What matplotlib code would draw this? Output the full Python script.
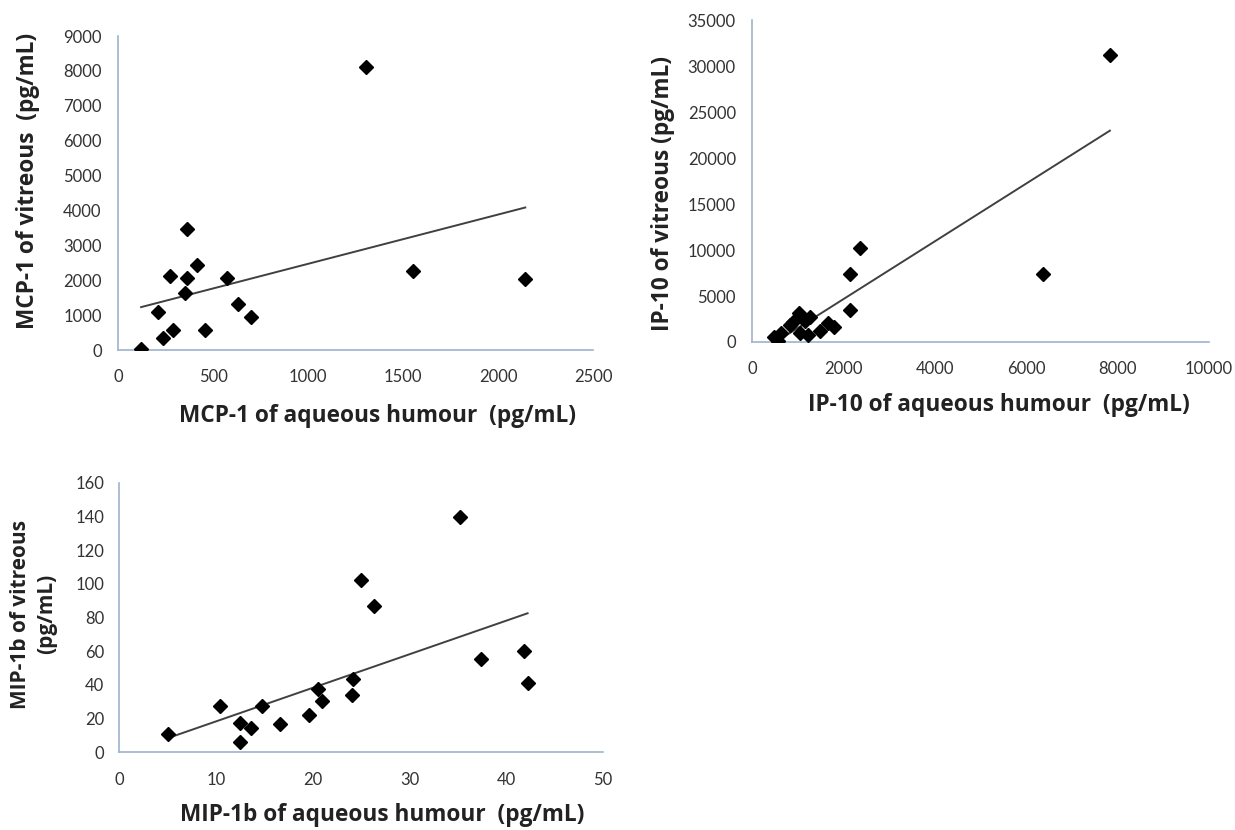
import numpy as np
import matplotlib
matplotlib.use('Agg')
import matplotlib.pyplot as plt

plt.rcParams['font.family'] = ['Lato', 'DejaVu Sans']

# MCP-1 (pg/mL)
mcp_aq = [120, 207, 237, 286, 272, 363, 363, 353, 412, 456, 570, 632, 696, 1304, 1550, 2142]
mcp_vit = [20, 1080, 340, 560, 2120, 3480, 2050, 1640, 2430, 570, 2050, 1320, 955, 8120, 2270, 2025]

# IP-10 (pg/mL)
ip_aq = [471, 559, 631, 815, 887, 1012, 1034, 1143, 1253, 1216, 1472, 1654, 1785, 2130, 2130, 2350, 6360, 7830]
ip_vit = [511, 120, 947, 1850, 2209, 3188, 947, 2318, 2753, 762, 1230, 2035, 1665, 3450, 7440, 10230, 7440, 31260]

# MIP-1b (pg/mL)
mip_aq = [5.0, 10.4, 12.5, 12.5, 13.6, 14.8, 16.6, 19.6, 20.5, 21.0, 24.0, 24.2, 25.0, 26.3, 35.2, 37.4, 41.8, 42.2]
mip_vit = [10.9, 27.5, 17.2, 5.9, 14.2, 27.7, 16.8, 22.4, 37.8, 30.5, 34.0, 43.5, 102.3, 87.0, 139.7, 55.2, 60.1, 41.3]

spine_col = '#9fb3cb'
tick_col = '#333333'
lab_col = '#222222'
lab_font = ['Open Sans', 'DejaVu Sans']


def scatter_panel(ax, x, y, xmax, xstep, ymax, ystep, xlab, ylab, xpad, ypad, ysize=16.3):
    ax.plot(x, y, 'D', color='black', ms=7.5, zorder=3)
    k, b = np.polyfit(x, y, 1)
    xs = np.array([min(x), max(x)])
    ax.plot(xs, k * xs + b, color='#404040', lw=1.4, zorder=2)
    ax.set_xlim(0, xmax)
    ax.set_ylim(0, ymax)
    ax.set_xticks(np.arange(0, xmax + 1e-9, xstep))
    ax.set_yticks(np.arange(0, ymax + 1e-9, ystep))
    for s in ['top', 'right']:
        ax.spines[s].set_visible(False)
    for s in ['left', 'bottom']:
        ax.spines[s].set_color(spine_col)
        ax.spines[s].set_linewidth(1.2)
    ax.tick_params(axis='both', length=0, labelsize=12, labelcolor=tick_col)
    ax.tick_params(axis='x', pad=xpad)
    ax.tick_params(axis='y', pad=ypad)
    ax.set_xlabel(xlab, fontsize=16.3, fontweight='bold', color=lab_col, family=lab_font)
    ax.set_ylabel(ylab, fontsize=ysize, fontweight='bold', color=lab_col, family=lab_font,
                  linespacing=1.35)


fig = plt.figure(figsize=(12.35, 8.3), dpi=100)

ax1 = fig.add_axes([0.0958, 0.5783, 0.3846, 0.3783])
scatter_panel(ax1, mcp_aq, mcp_vit, 2500, 500, 9000, 1000,
              'MCP-1 of aqueous humour  (pg/mL)', 'MCP-1 of vitreous  (pg/mL)', 14, 12)
ax1.xaxis.set_label_coords(0.545, -0.172)
ax1.yaxis.set_label_coords(-0.165, 0.54)

ax2 = fig.add_axes([0.6093, 0.5880, 0.3696, 0.3876])
scatter_panel(ax2, ip_aq, ip_vit, 10000, 2000, 35000, 5000,
              'IP-10 of aqueous humour  (pg/mL)', 'IP-10 of vitreous (pg/mL)', 14, 12)
ax2.xaxis.set_label_coords(0.54, -0.16)
ax2.yaxis.set_label_coords(-0.17, 0.463)

ax3 = fig.add_axes([0.0966, 0.0936, 0.3917, 0.3248])
scatter_panel(ax3, mip_aq, mip_vit, 50, 10, 160, 20,
              'MIP-1b of aqueous humour  (pg/mL)', 'MIP-1b of vitreous\n(pg/mL)', 14, 11,
              ysize=15)
ax3.xaxis.set_label_coords(0.543, -0.187)
ax3.yaxis.set_label_coords(-0.128, 0.513)

fig.savefig('out.png', dpi=100)
